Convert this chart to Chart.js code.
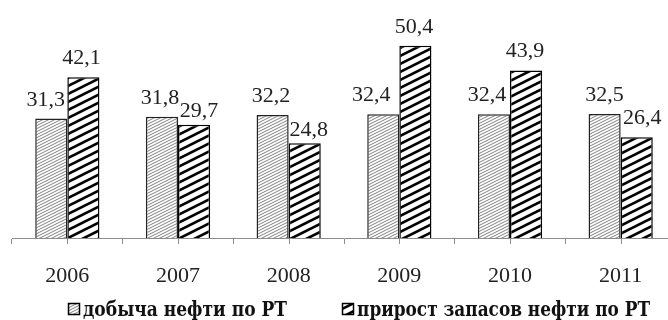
<!DOCTYPE html>
<html><head><meta charset="utf-8">
<script src="https://cdn.jsdelivr.net/npm/chart.js@4.4.1/dist/chart.umd.min.js"></script>
<style>html,body{margin:0;padding:0;background:#fff;overflow:hidden}#wrap{width:680px;height:320px;position:relative}</style>
</head><body><div id="wrap"><canvas id="c"></canvas></div>
<script>
const years = ['2006', '2007', '2008', '2009', '2010', '2011'];
const production = [31.3, 31.8, 32.2, 32.4, 32.4, 32.5];
const reserveGrowth = [42.1, 29.7, 24.8, 50.4, 43.9, 26.4];
const seriesNames = ['добыча нефти по РТ', 'прирост запасов нефти по РТ'];

// label nudges (pixels, style only)
const labelShiftX = [[-5.5, -2, -1.5, -12, -7, 0], [-2, 5, 4, -1.5, -1, 5.5]];
const labelShiftY = [[0, 0, 0, 0, 0, 0], [0, 5, 6, 0, 0, 0]];

function hatch(w, h, color, lw) {
  const c = document.createElement('canvas');
  c.width = w; c.height = h;
  const x = c.getContext('2d');
  x.fillStyle = '#fff'; x.fillRect(0, 0, w, h);
  x.strokeStyle = color; x.lineWidth = lw;
  for (let k = -2; k <= 3; k++) {
    x.beginPath();
    x.moveTo(-w, (k + 1) * h);
    x.lineTo(2 * w, (k - 2) * h);
    x.stroke();
  }
  return document.createElement('canvas').getContext('2d').createPattern(c, 'repeat');
}
const greyPat = hatch(6, 3, '#808080', 1);
const blackPat = hatch(16, 8, '#000', 2.6);

const serif = '"Liberation Serif", "Times New Roman", serif';
const legendFont = 'bold 20px "DejaVu Serif Condensed", "DejaVu Serif", serif';

const labelPlugin = {
  id: 'vlabels',
  afterDatasetsDraw(chart) {
    const ctx = chart.ctx;
    ctx.save();
    ctx.font = '22px ' + serif;
    ctx.fillStyle = '#222';
    ctx.textAlign = 'center';
    ctx.textBaseline = 'alphabetic';
    chart.data.datasets.forEach((ds, di) => {
      chart.getDatasetMeta(di).data.forEach((el, i) => {
        const t = String(ds.data[i]).replace('.', ',');
        ctx.fillText(t, el.x + labelShiftX[di][i], el.y - 13 + labelShiftY[di][i]);
      });
    });
    ctx.restore();
  },
  afterDraw(chart) {
    const ctx = chart.ctx;
    const xs = chart.scales.x;
    // centre tick marks
    ctx.save();
    ctx.strokeStyle = '#8c8c8c';
    ctx.lineWidth = 1;
    years.forEach((y, i) => {
      const px = Math.round(xs.getPixelForValue(i)) + 0.5;
      ctx.beginPath();
      ctx.moveTo(px, chart.chartArea.bottom);
      ctx.lineTo(px, chart.chartArea.bottom + 6);
      ctx.stroke();
    });
    // legend
    const starts = [68, 342];
    const ends = [287, 650];
    ctx.font = legendFont;
    ctx.textBaseline = 'alphabetic';
    ctx.textAlign = 'left';
    chart.data.datasets.forEach((ds, di) => {
      const bx = starts[di];
      ctx.fillStyle = ds.backgroundColor;
      ctx.fillRect(bx, 303, 12, 12);
      ctx.strokeStyle = '#000';
      ctx.lineWidth = 1.5;
      ctx.strokeRect(bx + 0.5, 303.5, 11, 11);
      ctx.fillStyle = '#111';
      const tx = bx + 15;
      const w = ctx.measureText(ds.label).width;
      const target = ends[di] - tx;
      ctx.save();
      ctx.translate(tx, 316);
      ctx.scale(target / w, 1);
      ctx.fillText(ds.label, 0, 0);
      ctx.restore();
    });
    ctx.restore();
  }
};

new Chart(document.getElementById('c'), {
  type: 'bar',
  data: {
    labels: years,
    datasets: [
      { label: seriesNames[0], data: production, backgroundColor: greyPat, borderColor: '#222', borderWidth: 1.5 },
      { label: seriesNames[1], data: reserveGrowth, backgroundColor: blackPat, borderColor: '#000', borderWidth: 1.5 }
    ]
  },
  options: {
    responsive: true,
    maintainAspectRatio: false,
    animation: false,
    datasets: { bar: { categoryPercentage: 0.58, barPercentage: 1 } },
    layout: { padding: { left: 12, right: 4, top: 9, bottom: 32 } },
    plugins: { legend: { display: false }, tooltip: { enabled: false } },
    scales: {
      x: {
        offset: true,
        grid: { display: true, offset: true, drawOnChartArea: false, drawTicks: true, tickLength: 6, color: '#8c8c8c' },
        border: { display: true, color: '#8c8c8c', width: 1 },
        ticks: { font: { family: serif, size: 22 }, color: '#222', padding: 19, maxRotation: 0 },
        afterFit(scale) { scale.height = 50; }
      },
      y: {
        display: false,
        min: 0, max: 60
      }
    }
  },
  plugins: [labelPlugin]
});
</script>
</body></html>
